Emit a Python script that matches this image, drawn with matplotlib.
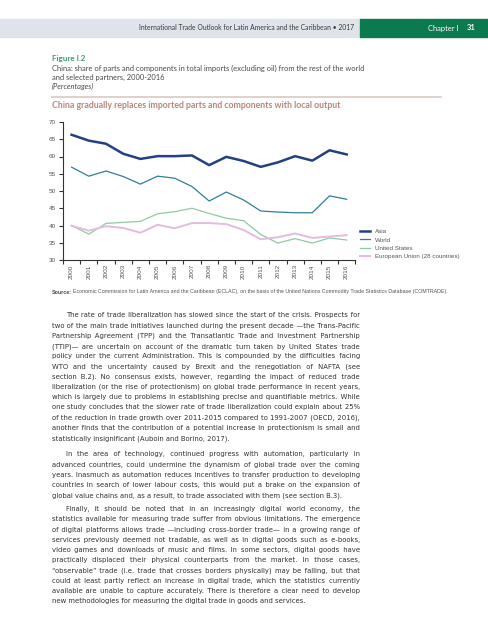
import matplotlib
matplotlib.use('Agg')
import matplotlib.pyplot as plt
from matplotlib import font_manager
from matplotlib.patches import Rectangle
from matplotlib.lines import Line2D

# ---- data ----
years = list(range(2000, 2017))
asia = [66.3, 64.6, 63.7, 60.8, 59.3, 60.1, 60.1, 60.3, 57.5, 59.9, 58.7, 57.0, 58.3, 60.1, 58.8, 61.8, 60.6]
world = [56.9, 54.3, 55.8, 54.2, 52.0, 54.3, 53.7, 51.3, 47.1, 49.7, 47.4, 44.2, 43.9, 43.7, 43.7, 48.6, 47.6]
usa = [40.0, 37.5, 40.6, 40.9, 41.2, 43.4, 44.0, 45.0, 43.5, 42.1, 41.4, 37.4, 34.9, 36.2, 34.9, 36.4, 35.8]
eu = [39.9, 38.5, 39.8, 39.3, 37.9, 40.2, 39.2, 40.7, 40.7, 40.4, 38.7, 36.0, 36.6, 37.7, 36.4, 36.8, 37.2]
series_names = ['Asia', 'World', 'United States', 'European Union (28 countries)']
yticks = [30, 35, 40, 45, 50, 55, 60, 65, 70]

header = 'International Trade Outlook for Latin America and the Caribbean \u2022 2017'
fig_label = 'Figure I.2'
fig_title = ['China: share of parts and components in total imports (excluding oil) from the rest of the world',
             'and selected partners, 2000-2016']
fig_units = '(Percentages)'
subtitle = 'China gradually replaces imported parts and components with local output'
source = ('Economic Commission for Latin America and the Caribbean (ECLAC), on the basis of the '
          'United Nations Commodity Trade Statistics Database (COMTRADE).')

para1 = [
    'The rate of trade liberalization has slowed since the start of the crisis. Prospects for',
    'two of the main trade initiatives launched during the present decade \u2014the Trans-Pacific',
    'Partnership Agreement (TPP) and the Transatlantic Trade and Investment Partnership',
    '(TTIP)\u2014 are uncertain on account of the dramatic turn taken by United States trade',
    'policy under the current Administration. This is compounded by the difficulties facing',
    'WTO and the uncertainty caused by Brexit and the renegotiation of NAFTA (see',
    'section B.2). No consensus exists, however, regarding the impact of reduced trade',
    'liberalization (or the rise of protectionism) on global trade performance in recent years,',
    'which is largely due to problems in establishing precise and quantifiable metrics. While',
    'one study concludes that the slower rate of trade liberalization could explain about 25%',
    'of the reduction in trade growth over 2011-2015 compared to 1991-2007 (OECD, 2016),',
    'another finds that the contribution of a potential increase in protectionism is small and',
    'statistically insignificant (Auboin and Borino, 2017).',
]
para2 = [
    'In the area of technology, continued progress with automation, particularly in',
    'advanced countries, could undermine the dynamism of global trade over the coming',
    'years. Inasmuch as automation reduces incentives to transfer production to developing',
    'countries in search of lower labour costs, this would put a brake on the expansion of',
    'global value chains and, as a result, to trade associated with them (see section B.3).',
]
para3 = [
    'Finally, it should be noted that in an increasingly digital world economy, the',
    'statistics available for measuring trade suffer from obvious limitations. The emergence',
    'of digital platforms allows trade \u2014including cross-border trade\u2014 in a growing range of',
    'services previously deemed not tradable, as well as in digital goods such as e-books,',
    'video games and downloads of music and films. In some sectors, digital goods have',
    'practically displaced their physical counterparts from the market. In those cases,',
    '\u201cobservable\u201d trade (i.e. trade that crosses borders physically) may be falling, but that',
    'could at least partly reflect an increase in digital trade, which the statistics currently',
    'available are unable to capture accurately. There is therefore a clear need to develop',
    'new methodologies for measuring the digital trade in goods and services.',
]

# ---- fonts ----
installed = {f.name for f in font_manager.fontManager.ttflist}
narrow = 'Liberation Sans Narrow' if 'Liberation Sans Narrow' in installed else 'Liberation Sans'
body_font = 'DejaVu Sans'
head_font = 'Lato'

W, H = 489, 640
fig = plt.figure(figsize=(W / 100, H / 100), dpi=100)
fx = lambda x: x / W
fy = lambda y: 1 - y / H
r = fig.canvas.get_renderer()


def width_of(txt, **kw):
    t = fig.text(0, 0, txt, **kw)
    w = t.get_window_extent(r).width
    t.remove()
    return w


# ---- page header ----
fig.patches.append(Rectangle((0, fy(37)), fx(360), 18 / H, transform=fig.transFigure,
                             color='#dfe4ea', zorder=0))
fig.patches.append(Rectangle((fx(360), fy(37)), fx(129), 18 / H, transform=fig.transFigure,
                             color='#0b7a4f', zorder=0))
fig.text(fx(354), fy(28), header, ha='right', va='center', fontsize=4.9, color='#3a3a3a', family=head_font)
fig.text(fx(428), fy(28), 'Chapter I', ha='left', va='center', fontsize=5.4, color='white', family=head_font)
fig.text(fx(467), fy(28), '31', ha='left', va='center', fontsize=5.4, color='white',
         family=head_font, weight='bold')

# ---- figure heading ----
fig.text(fx(52), fy(59), fig_label, va='center', fontsize=5.8, color='#3a9a6e', family=head_font, weight='bold')
for i, t in enumerate(fig_title):
    fig.text(fx(52), fy(68 + 9 * i), t, va='center', fontsize=5.4, color='#4a4a4a', family=head_font)
fig.text(fx(52), fy(86), fig_units, va='center', fontsize=5.4, color='#4a4a4a', family=head_font, style='italic')
fig.add_artist(Line2D([fx(52), fx(441)], [fy(97), fy(97)], color='#d9c8c2', lw=1.2))
fig.text(fx(52), fy(105.5), subtitle, va='center', fontsize=6.3, color='#b5877c', family=head_font, weight='bold')

# ---- chart ----
ax = fig.add_axes([fx(63), fy(260), (355.3 - 63) / W, 138 / H])
ax.plot(years, asia, color='#233f86', lw=1.8, label=series_names[0])
ax.plot(years, world, color='#2f7f98', lw=0.9, label=series_names[1])
ax.plot(years, usa, color='#8fcaa2', lw=0.9, label=series_names[2])
ax.plot(years, eu, color='#e2bcdf', lw=1.4, label=series_names[3])
ax.set_xlim(years[0] - 0.5, years[-1] + 0.5)
ax.set_ylim(yticks[0], yticks[-1])
ax.set_yticks(yticks)
ax.set_xticks([y - 0.5 for y in years] + [years[-1] + 0.5])
ax.set_xticklabels([])
ax.set_xticks(years, minor=True)
ax.set_xticklabels([str(y) for y in years], minor=True, rotation=90, fontsize=4.6, color='#555555', family=narrow)
ax.tick_params(axis='x', which='minor', length=0, pad=3)
ax.tick_params(axis='both', which='major', length=3, width=0.8, color='#333333', direction='out')
ax.tick_params(axis='y', labelsize=4.6, labelcolor='#555555', pad=2)
for lab in ax.get_yticklabels():
    lab.set_family(narrow)
for s in ['top', 'right']:
    ax.spines[s].set_visible(False)
for s in ['left', 'bottom']:
    ax.spines[s].set_color('#333333')
    ax.spines[s].set_linewidth(0.8)

leg = fig.legend(loc='upper left', bbox_to_anchor=(fx(360), fy(229)), frameon=False,
                 prop={'family': narrow, 'size': 4.5}, handlelength=1.6, handletextpad=0.8,
                 labelspacing=0.45, borderpad=0, borderaxespad=0)
for t in leg.get_texts():
    t.set_color('#555555')

# ---- source, sized to span x 52..441 ----
src_size = 4.9
full = width_of('Source: ' + source, fontsize=src_size, family=narrow)
src_size = src_size * 387 / full
s1 = fig.text(fx(52), fy(292), 'Source:', va='center', fontsize=src_size, color='#444444',
              family=narrow, weight='bold')
w1 = s1.get_window_extent(r).width
fig.text(fx(52 + w1 + 1.5), fy(292), source, va='center', fontsize=src_size, color='#555555', family=narrow)

# ---- body text, justified between x 52 and 360 ----
# one text per line; extra hair spaces widen the word gaps so the line fills the column
left, right, indent = 52, 360, 14
hair = '\u200a'
size = 5.0
need = 0
for para in (para1, para2, para3):
    for i, l in enumerate(para[:-1]):
        avail = right - left - (indent if i == 0 else 0)
        need = max(need, width_of(l, fontsize=size, family=body_font) / avail)
size = size / need * 0.995
hair_w = (width_of('a' + hair * 20 + 'a', fontsize=size, family=body_font)
          - width_of('aa', fontsize=size, family=body_font)) / 20


def draw_para(lines, y0, step=10.22):
    for i, line in enumerate(lines):
        y = y0 + i * step + 2.4
        xs = left + (indent if i == 0 else 0)
        txt = line
        if i < len(lines) - 1:
            words = line.split(' ')
            n = len(words) - 1
            k = max(0, round((right - xs - width_of(line, fontsize=size, family=body_font)) / hair_w))
            parts = [words[0]]
            for j in range(1, len(words)):
                extra = (k * j) // n - (k * (j - 1)) // n
                parts.append(' ' + hair * extra + words[j])
            txt = ''.join(parts)
        fig.text(fx(xs), fy(y), txt, fontsize=size, color='#333333', family=body_font, va='baseline')


draw_para(para1, 315)
draw_para(para2, 454)
draw_para(para3, 508.7)

fig.savefig('out.png', dpi=100)
